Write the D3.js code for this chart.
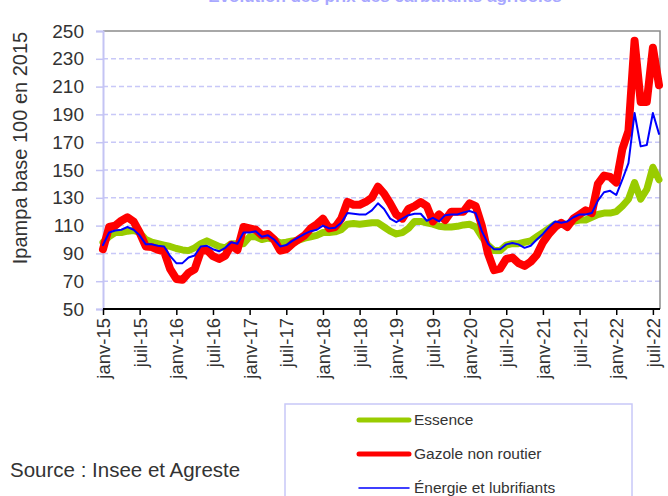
<!DOCTYPE html>
<html>
<head>
<meta charset="utf-8">
<script src="https://cdn.jsdelivr.net/npm/d3@7"></script>
<style>
  body { margin: 0; background: #fff; }
  svg { display: block; font-family: "Liberation Sans", Arial, sans-serif; }
</style>
</head>
<body>
<script>
// months janv-15 .. août-22
var monthNames = ["janv","févr","mars","avr","mai","juin","juil","août","sept","oct","nov","déc"];
var years = ["15","16","17","18","19","20","21","22"];
var months = [];
years.forEach(function(y) {
  monthNames.forEach(function(m) { months.push(m + "-" + y); });
});
months = months.slice(0, 92);

var tickLabels = ["janv-15","juil-15","janv-16","juil-16","janv-17","juil-17","janv-18","juil-18",
                  "janv-19","juil-19","janv-20","juil-20","janv-21","juil-21","janv-22","juil-22"];
var yTicks = [50, 70, 90, 110, 130, 150, 170, 190, 210, 230, 250];

var essence = [98,102,105,105,106,106.5,105,100,98,97,96,95,93.5,92.5,92,94,97,99,97,95,94,97,97,
  97,102,102,100,101,100,97.5,98,99,99.5,101,102,103,105,105,105.5,107,111,111.5,111,111.5,112,112,
  109,106,104,105,108,113,113,112,111,109.5,109,109,109.5,110.5,111,109,102,96,92,92,96,97,97,98,99,
  102,105,108,111,111,111,113,114,114,116,118,119,119,120,124,129,141,129,136,152,143];

var gazole = [93,109,110,113.5,116,113,105,95,94.5,92.5,91.5,78.6,71.6,71,76,78.6,91.4,92.5,88,86,88.4,96,92.5,
  109,108,107,103,104,100,92,93,97,100,103,108,111,115,108,109,115,127,125,125,127,130,138,
  133,126,118,115,122,124,127,124,113,118,114,120,120,120,126,124,110,90,78,79,86,87,83,81,84,
  89,98,104,109,112,109,115,118,121,119,140,146,145,141,165,178,243,199,199,238,211];

var energie = [96,105,106.5,107,109,107,103,96.5,96.5,95.5,95,88,83,83,87,88.5,95,95.5,93,91.5,94,98,97,
  105,105,106,102,103,100,95,96,99,101.5,104,106,107,110,108,108.5,112,119,118.5,118,118,121,126,
  122,115,112.5,115,117.5,118.5,118.5,113.5,115.5,113,117.5,118,118,119.5,120.5,119,106,97,93,93,96.5,97.5,96.5,94,95.5,
  100,104,109,113,112,113,116,118,118,119,128,134,135,132,143,155,191,167,168,191,176];

var seriesNames = ["Essence", "Gazole non routier", "Énergie et lubrifiants"];
var seriesColors = ["#99cc00", "#ff0000", "#0000ff"];
var seriesWidths = [7, 8, 2];

var W = 668, H = 496;
var plot = {left: 103, top: 31, right: 660, bottom: 309};

var svg = d3.select("body").append("svg")
    .attr("width", W)
    .attr("height", H);

var x = d3.scaleLinear()
    .domain([0, months.length - 1])
    .range([plot.left, plot.right - 1]);
var y = d3.scaleLinear()
    .domain([50, 250])
    .range([plot.bottom, plot.top]);

// title, cut off by the top edge as in the source image
svg.append("text")
    .attr("x", 385).attr("y", 1.5)
    .attr("text-anchor", "middle")
    .style("font-size", "17px").style("font-weight", "bold")
    .style("fill", "#a8a8ff")
    .text("Évolution des prix des carburants agricoles");

// dashed gridlines
svg.append("g").selectAll("line")
    .data(yTicks.filter(function(d) { return d > 50 && d < 250; }))
  .enter().append("line")
    .attr("x1", plot.left).attr("x2", plot.right)
    .attr("y1", function(d) { return y(d); })
    .attr("y2", function(d) { return y(d); })
    .attr("stroke", "#c8c8f8")
    .attr("stroke-width", 1.5)
    .attr("stroke-dasharray", "5,3");

// top and right border
svg.append("path")
    .attr("d", "M" + plot.left + "," + plot.top + "H" + plot.right + "V" + plot.bottom)
    .attr("fill", "none")
    .attr("stroke", "#8c8c8c")
    .attr("stroke-width", 1.5);

// y axis
var yAxis = svg.append("g")
    .attr("transform", "translate(" + plot.left + ",0)")
    .call(d3.axisLeft(y).tickValues(yTicks).tickSize(7).tickPadding(12));
yAxis.select(".domain").attr("stroke", "#c4c4f4").attr("stroke-width", 2);
yAxis.selectAll(".tick line").attr("stroke", "#c4c4f4").attr("stroke-width", 1.5);
yAxis.selectAll("text")
    .style("font-size", "19px")
    .style("fill", "#333");

// x axis
var xAxis = svg.append("g")
    .attr("transform", "translate(0," + plot.bottom + ")")
    .call(d3.axisBottom(x)
      .tickValues(d3.range(0, 91, 6))
      .tickSize(6)
      .tickFormat(function(d, i) { return tickLabels[i]; }));
xAxis.select(".domain").attr("stroke", "#000").attr("stroke-width", 2)
    .attr("d", "M" + plot.left + ",0H" + plot.right);
xAxis.selectAll(".tick line").attr("stroke", "#000").attr("stroke-width", 1.5);
xAxis.selectAll("text")
    .style("font-size", "18.5px")
    .style("fill", "#333")
    .style("text-anchor", "end")
    .attr("x", -9)
    .attr("y", 0)
    .attr("dy", ".35em")
    .attr("transform", "rotate(-90)");

// y axis title
svg.append("text")
    .attr("transform", "translate(27,148) rotate(-90)")
    .attr("text-anchor", "middle")
    .style("font-size", "20px")
    .style("fill", "#333")
    .text("Ipampa base 100 en 2015");

// lines
var line = d3.line()
    .x(function(d, i) { return x(i); })
    .y(function(d) { return y(d); });

[essence, gazole, energie].forEach(function(s, k) {
  svg.append("path")
      .datum(s)
      .attr("fill", "none")
      .attr("stroke", seriesColors[k])
      .attr("stroke-width", seriesWidths[k])
      .attr("stroke-linejoin", "round")
      .attr("stroke-linecap", "round")
      .attr("d", line);
});

// legend
svg.append("rect")
    .attr("x", 285).attr("y", 404)
    .attr("width", 347).attr("height", 110)
    .attr("fill", "#fff")
    .attr("stroke", "#c8c8f8")
    .attr("stroke-width", 1.5);

var legend = svg.append("g").selectAll("g")
    .data(seriesNames)
  .enter().append("g")
    .attr("transform", function(d, i) { return "translate(0," + (420 + i * 34) + ")"; });
legend.append("line")
    .attr("x1", 359).attr("x2", 409)
    .attr("stroke", function(d, i) { return seriesColors[i]; })
    .attr("stroke-width", function(d, i) { return i < 2 ? 5 : 1.5; })
    .attr("stroke-linecap", "round");
legend.append("text")
    .attr("x", 414).attr("dy", "0.35em")
    .style("font-size", "15.5px")
    .style("fill", "#333")
    .text(function(d) { return d; });

// source
svg.append("text")
    .attr("x", 10).attr("y", 477)
    .style("font-size", "20.5px")
    .style("fill", "#333")
    .text("Source : Insee et Agreste");
</script>
</body>
</html>
